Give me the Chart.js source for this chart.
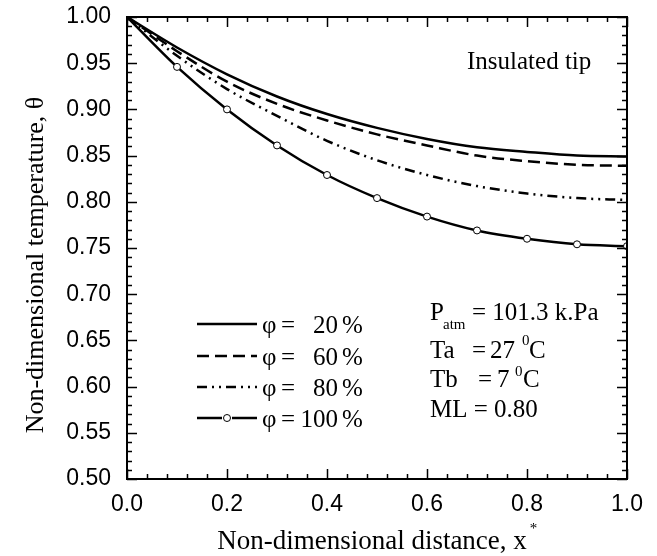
<!DOCTYPE html>
<html>
<head>
<meta charset="utf-8">
<script src="https://cdn.jsdelivr.net/npm/chart.js@4"></script>
<style>
    html, body { margin: 0; padding: 0; background: #fff; }
    #wrap { width: 657px; height: 556px; }
</style>
</head>
<body>
<div id="wrap"><canvas id="chart" width="657" height="556"></canvas></div>
<script>
// distance x* along the fin
const xValues = [0.0, 0.1, 0.2, 0.3, 0.4, 0.5, 0.6, 0.7, 0.8, 0.9, 1.0];

// non-dimensional temperature for each relative humidity
const phi20 = [1.000, 0.967, 0.938, 0.914, 0.895, 0.880, 0.868, 0.859, 0.854, 0.850, 0.849];
const phi60 = [1.000, 0.963, 0.930, 0.906, 0.888, 0.873, 0.861, 0.850, 0.844, 0.840, 0.839];
const phi80 = [1.000, 0.958, 0.922, 0.893, 0.866, 0.845, 0.829, 0.817, 0.809, 0.804, 0.802];
const phi100 = [1.000, 0.946, 0.900, 0.861, 0.829, 0.804, 0.784, 0.769, 0.760, 0.754, 0.752];

const legendLabels = ["20", "60", "80", "100"];

const serif = "'Liberation Serif', 'Times New Roman', serif";
const sans = "'Liberation Sans', Arial, sans-serif";

function toPoints(values) {
    return xValues.map((x, i) => ({ x: x, y: values[i] }));
}

const dashes = [[], [12, 6], [10, 5, 2, 5, 2, 5], []];

const datasets = [phi20, phi60, phi80, phi100].map((values, i) => ({
    label: "φ = " + legendLabels[i] + " %",
    data: toPoints(values),
    borderColor: "#000",
    borderWidth: 2.5,
    borderDash: dashes[i],
    cubicInterpolationMode: "monotone",
    pointRadius: i === 3 ? 3.5 : 0,
    pointBackgroundColor: "#fff",
    pointBorderColor: "#000",
    pointBorderWidth: 1,
    fill: false
}));

// inward ticks on all four sides plus the frame
const frameTicks = {
    id: "frameTicks",
    afterDatasetsDraw(chart) {
        const { ctx, chartArea: a, scales: { x, y } } = chart;
        ctx.save();
        ctx.strokeStyle = "#000";
        ctx.lineWidth = 1.5;
        ctx.beginPath();
        for (let i = 0; i <= 25; i++) {
            const px = Math.round(x.getPixelForValue(i * 0.04)) + 0.5;
            const len = i % 5 === 0 ? 10 : 5;
            ctx.moveTo(px, a.bottom);
            ctx.lineTo(px, a.bottom - len);
            ctx.moveTo(px, a.top);
            ctx.lineTo(px, a.top + len);
        }
        for (let i = 0; i <= 50; i++) {
            const py = Math.round(y.getPixelForValue(0.5 + i * 0.01)) + 0.5;
            const len = i % 5 === 0 ? 10 : 5;
            ctx.moveTo(a.left, py);
            ctx.lineTo(a.left + len, py);
            ctx.moveTo(a.right, py);
            ctx.lineTo(a.right - len, py);
        }
        ctx.stroke();
        ctx.lineWidth = 2;
        ctx.strokeRect(a.left, a.top, a.right - a.left, a.bottom - a.top);
        ctx.restore();
    }
};

function sup(ctx, text, x, y) {
    ctx.font = "15px " + serif;
    ctx.fillText(text, x, y);
    ctx.font = "25px " + serif;
}

// legend, notes and axis titles drawn as canvas text
const notes = {
    id: "notes",
    afterDraw(chart) {
        const { ctx } = chart;
        ctx.save();
        ctx.fillStyle = "#000";
        ctx.strokeStyle = "#000";
        ctx.textBaseline = "alphabetic";
        ctx.font = "25px " + serif;

        // legend
        const rowY = [324, 356, 387, 418];
        rowY.forEach((ly, i) => {
            ctx.lineWidth = 2.5;
            ctx.setLineDash(dashes[i]);
            ctx.beginPath();
            if (i === 3) {
                ctx.moveTo(197, ly); ctx.lineTo(222, ly);
                ctx.moveTo(232, ly); ctx.lineTo(257, ly);
            }
            else {
                ctx.moveTo(197, ly); ctx.lineTo(257, ly);
            }
            ctx.stroke();
            ctx.setLineDash([]);
            if (i === 3) {
                ctx.lineWidth = 1;
                ctx.beginPath();
                ctx.arc(227, ly, 3.5, 0, Math.PI * 2);
                ctx.fillStyle = "#fff";
                ctx.fill();
                ctx.stroke();
                ctx.fillStyle = "#000";
            }
            ctx.textAlign = "left";
            ctx.fillText("φ", 262, ly + 9);
            ctx.fillText("=", 281, ly + 9);
            ctx.textAlign = "right";
            ctx.fillText(legendLabels[i], 338, ly + 9);
            ctx.textAlign = "left";
            ctx.fillText("%", 342, ly + 9);
        });

        ctx.fillText("Insulated tip", 467, 69);

        // conditions
        ctx.fillText("P", 430, 320);
        sup(ctx, "atm", 443, 329);
        ctx.fillText("= 101.3 k.Pa", 472, 320);

        ctx.fillText("Ta", 430, 358);
        ctx.fillText("=", 472, 358);
        ctx.fillText("27", 490, 358);
        sup(ctx, "0", 522, 345);
        ctx.fillText("C", 529, 358);

        ctx.fillText("Tb", 430, 387);
        ctx.fillText("=", 478, 387);
        ctx.fillText("7", 497, 387);
        sup(ctx, "0", 515, 376);
        ctx.fillText("C", 523, 387);

        ctx.fillText("ML = 0.80", 430, 417);

        // x axis title with superscript star
        const xt = "Non-dimensional distance, x";
        ctx.font = "27px " + serif;
        const w = ctx.measureText(xt).width;
        const x0 = 372 - w / 2;
        ctx.fillText(xt, x0, 549);
        ctx.font = "15px " + serif;
        ctx.fillText("*", x0 + w + 3, 533);

        // y axis title
        ctx.translate(43, 265);
        ctx.rotate(-Math.PI / 2);
        ctx.font = "26px " + serif;
        ctx.textAlign = "center";
        ctx.fillText("Non-dimensional temperature, θ", 0, 0);
        ctx.restore();
    }
};

new Chart(document.getElementById("chart"), {
    type: "line",
    data: { datasets: datasets },
    plugins: [frameTicks, notes],
    options: {
        responsive: false,
        animation: false,
        layout: { padding: { top: 17, right: 30, left: 0, bottom: 0 } },
        plugins: {
            legend: { display: false },
            tooltip: { enabled: false }
        },
        scales: {
            x: {
                type: "linear",
                min: 0,
                max: 1,
                afterFit(scale) {
                    scale.height = 77;
                    scale.paddingLeft = 0;
                    scale.paddingRight = 0;
                },
                grid: { display: false, drawTicks: false },
                border: { display: false },
                ticks: {
                    stepSize: 0.2,
                    padding: 12,
                    color: "#000",
                    font: { family: sans, size: 23 },
                    maxRotation: 0,
                    callback: (v) => v.toFixed(1)
                }
            },
            y: {
                min: 0.5,
                max: 1.0,
                afterFit(scale) {
                    scale.width = 127;
                    scale.paddingTop = 0;
                    scale.paddingBottom = 0;
                },
                grid: { display: false, drawTicks: false },
                border: { display: false },
                ticks: {
                    stepSize: 0.05,
                    padding: 16,
                    color: "#000",
                    font: { family: sans, size: 23 },
                    callback: (v) => v.toFixed(2)
                }
            }
        }
    }
});
</script>
</body>
</html>
